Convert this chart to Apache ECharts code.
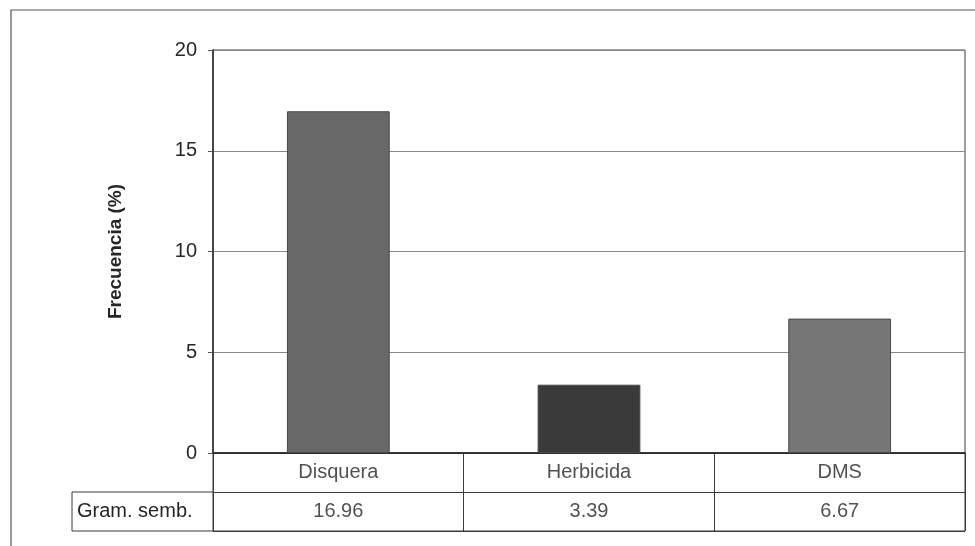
<!DOCTYPE html>
<html>
<head>
<meta charset="utf-8">
<script src="https://cdn.jsdelivr.net/npm/echarts@6/dist/echarts.min.js"></script>
<style>
  html, body { margin: 0; padding: 0; background: #fff; }
  #chart { width: 975px; height: 546px; }
</style>
</head>
<body>
<div id="chart"></div>
<script>
// Categories and values of the chart
const categories = ['Disquera', 'Herbicida', 'DMS'];
const frecuencia = [16.96, 3.39, 6.67];
const barColors = ['#686868', '#3a3a3a', '#767676'];
const rowTitle = 'Gram. semb.';
const yTicks = { min: 0, max: 20, interval: 5 };
const yAxisName = 'Frecuencia (%)';

const font = '"Liberation Sans", Arial, sans-serif';
const ink = '#262626';

// Table cells: first row = category names, second row = value strings
const tableCells = [];
categories.forEach((c, i) => {
  tableCells.push([i, 0, c]);
  tableCells.push([i, 1, frecuencia[i].toFixed(2)]);
});

const chart = echarts.init(document.getElementById('chart'));
chart.setOption({
  animation: false,
  backgroundColor: '#fff',
  grid: [
    { left: 213, top: 50, width: 752, height: 403, show: true, borderColor: '#3a3a3a', borderWidth: 1 },
    { left: 213, top: 453, width: 752, height: 78, show: true, borderColor: '#3a3a3a', borderWidth: 1 }
  ],
  xAxis: [
    {
      gridIndex: 0, type: 'category', data: categories,
      axisLine: { lineStyle: { color: '#2a2a2a', width: 1.5 } },
      axisTick: { show: false }, axisLabel: { show: false }
    },
    {
      gridIndex: 1, type: 'category', data: categories,
      axisLine: { show: false }, axisTick: { show: false }, axisLabel: { show: false },
      splitLine: { show: true, lineStyle: { color: '#3a3a3a', width: 1 } }
    }
  ],
  yAxis: [
    {
      gridIndex: 0, type: 'value', min: yTicks.min, max: yTicks.max, interval: yTicks.interval,
      name: yAxisName, nameLocation: 'middle', nameGap: 88, nameRotate: 90,
      nameTextStyle: { fontFamily: font, fontSize: 19, fontWeight: 'bold', color: ink },
      axisLine: { show: true, lineStyle: { color: '#2a2a2a', width: 1.5 } },
      axisTick: { show: true, length: 5, lineStyle: { color: '#555' } },
      axisLabel: { fontFamily: font, fontSize: 20, color: ink, margin: 16 },
      splitLine: { show: true, lineStyle: { color: '#8a8a8a', width: 1 } }
    },
    {
      gridIndex: 1, type: 'category', data: ['', ''], inverse: true,
      axisLine: { show: false }, axisTick: { show: false }, axisLabel: { show: false },
      splitLine: { show: true, lineStyle: { color: '#3a3a3a', width: 1 } }
    }
  ],
  series: [
    {
      type: 'bar', xAxisIndex: 0, yAxisIndex: 0, barWidth: '41%',
      data: frecuencia.map((v, i) => ({
        value: v,
        itemStyle: { color: barColors[i], borderColor: '#4a4a4a', borderWidth: 1 }
      }))
    },
    {
      type: 'scatter', xAxisIndex: 1, yAxisIndex: 1, symbolSize: 0,
      data: tableCells,
      label: {
        show: true, position: 'inside', fontFamily: font, fontSize: 20, color: ink,
        formatter: p => p.value[2]
      }
    }
  ],
  graphic: [
    {
      type: 'rect', z: -1, silent: true,
      shape: { x: 11, y: 10, width: 980, height: 560 },
      style: { fill: 'none', stroke: '#555', lineWidth: 1.2 }
    },
    {
      type: 'rect', silent: true,
      shape: { x: 72, y: 492, width: 141, height: 39 },
      style: { fill: '#fff', stroke: '#3a3a3a', lineWidth: 1 }
    },
    {
      type: 'text', silent: true, left: 77, top: 501,
      style: { text: rowTitle, font: '20px ' + font, fill: ink }
    }
  ]
});
</script>
</body>
</html>
